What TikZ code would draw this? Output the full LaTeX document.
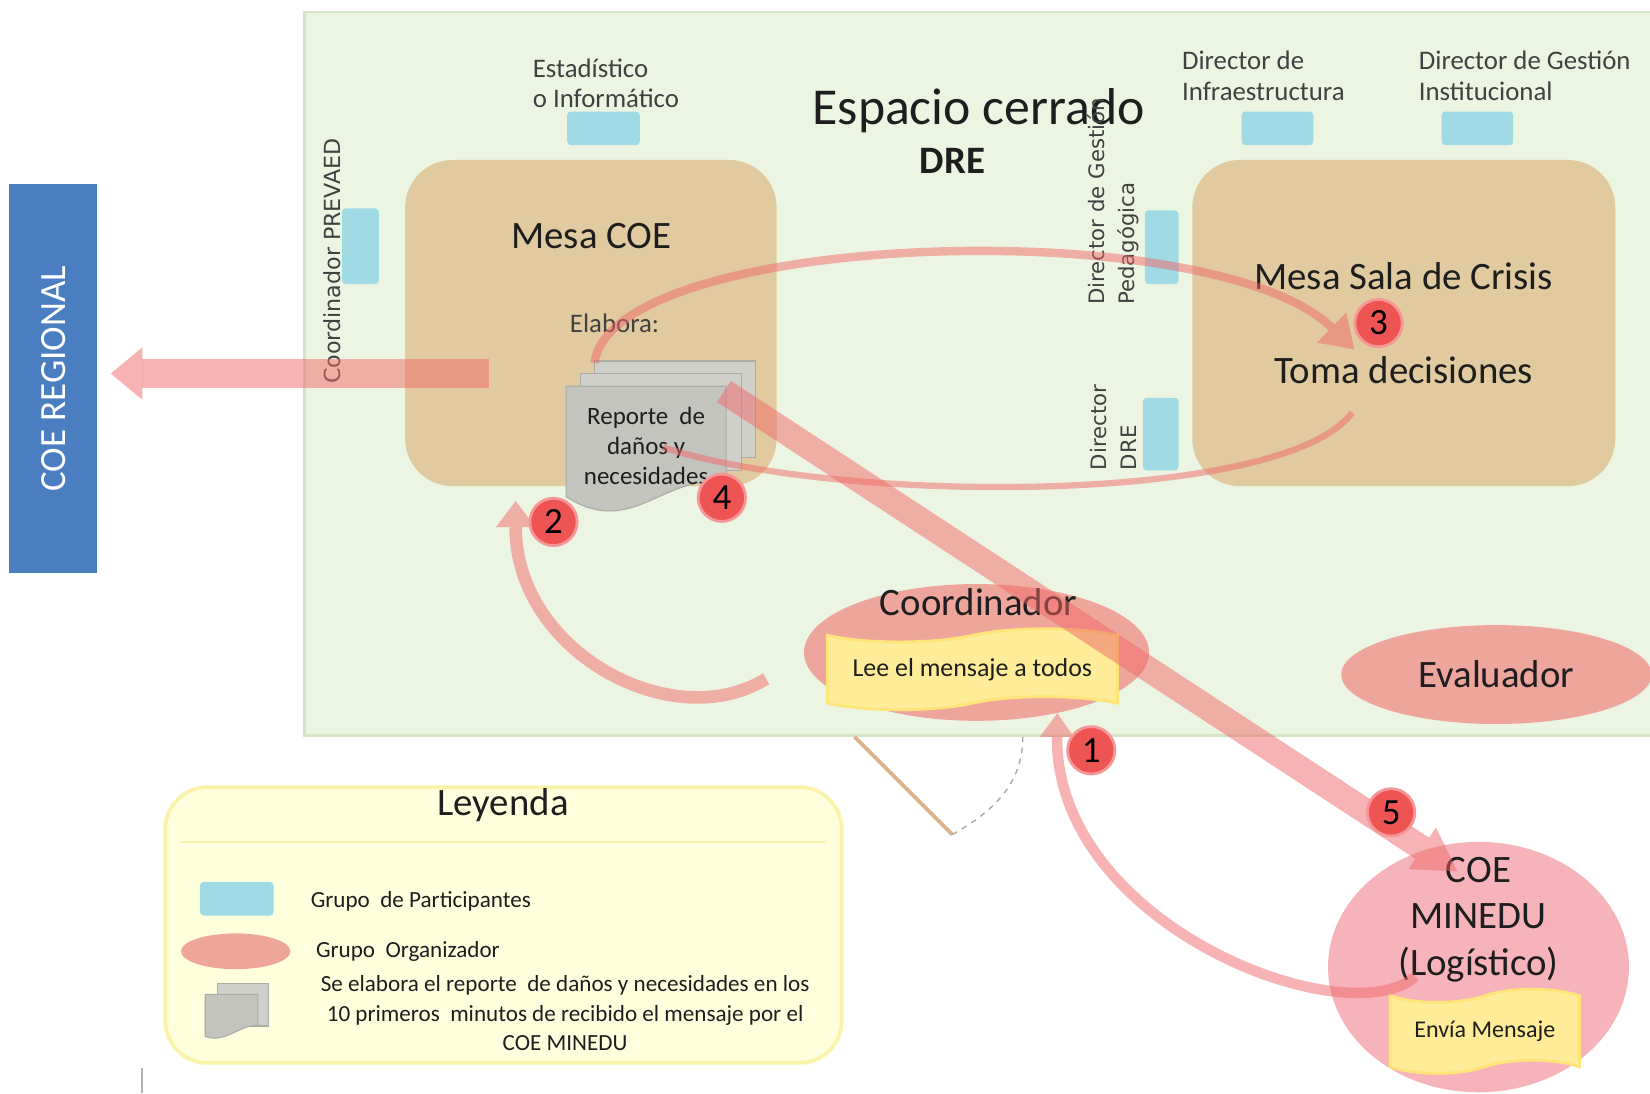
\documentclass[tikz,border=0pt]{standalone}
\usepackage{fontspec}
\setmainfont{Carlito}
\newfontfamily\vlabelfont{DejaVu Sans}
\usetikzlibrary{arrows.meta, positioning, shapes.geometric, shapes.symbols}

\definecolor{roomgreen}{RGB}{236,245,226}
\definecolor{roomline}{RGB}{212,230,196}
\definecolor{mesatan}{RGB}{225,202,160}
\definecolor{seatcyan}{RGB}{160,218,228}
\definecolor{orgsalmon}{RGB}{238,166,156}
\definecolor{minedupink}{RGB}{246,180,186}
\definecolor{msgyellow}{RGB}{254,236,152}
\definecolor{msgline}{RGB}{255,228,120}
\definecolor{numred}{RGB}{238,84,84}
\definecolor{numring}{RGB}{246,150,150}
\definecolor{flowpink}{RGB}{240,104,104}
\definecolor{regblue}{RGB}{74,126,193}
\definecolor{legendfill}{RGB}{255,255,222}
\definecolor{legendline}{RGB}{250,244,168}
\definecolor{docback}{RGB}{208,208,202}
\definecolor{docfront}{RGB}{196,196,190}
\definecolor{docedge}{RGB}{172,172,166}
\definecolor{doorbrown}{RGB}{222,178,138}
\definecolor{txtdark}{RGB}{30,30,30}
\definecolor{txtgray}{RGB}{65,65,65}

\begin{document}
\begin{tikzpicture}[x=0.02cm, y=-0.02cm,
    roombox/.style={draw=roomline, fill=roomgreen, line width=1.5pt, inner sep=0pt},
    mesa/.style={fill=mesatan, rounded corners=0.9cm, inner sep=0pt},
    seat/.style={fill=seatcyan, rounded corners=2pt, inner sep=0pt},
    org/.style={ellipse, fill=orgsalmon, inner sep=0pt},
    msg/.style={tape, draw=msgline, fill=msgyellow, line width=1.5pt, tape bend height=0.25cm, inner sep=0pt, text=txtdark},
    num/.style={circle, fill=numred, draw=numring, line width=1.5pt, minimum size=0.9cm, inner sep=0pt, font=\fontsize{20}{20}\selectfont},
    flow/.style={draw=flowpink, opacity=0.5, line width=#1},
    sheet/.style={fill=#1, draw=docedge, line width=0.6pt},
    bigtxt/.style={font=\fontsize{21}{25}\selectfont, text=txtdark},
    seattxt/.style={font=\fontsize{14.5}{16.5}\selectfont, text=txtgray, align=left, inner sep=0pt},
    vtxt/.style={font=\vlabelfont\fontsize{11.5}{16.5}\selectfont, text=txtgray, rotate=90, align=left, inner sep=0pt},
    legtxt/.style={font=\fontsize{12.5}{16}\selectfont, text=txtdark, inner sep=0pt}
]
\useasboundingbox (0,0) rectangle (1568,1039);
\fill[white] (0,0) rectangle (1568,1039);

% Espacio cerrado
\node[roombox, minimum width=25.8cm, minimum height=13.76cm, anchor=north west] (room) at (288,10) {};
\node[font=\fontsize{28}{30}\selectfont, text=txtdark] (room title) at (930,105) {Espacio cerrado};
\node[font=\bfseries\fontsize{21}{25}\selectfont, text=txtdark] (dre) at (905,153) {DRE};

% COE REGIONAL
\node[fill=regblue, rotate=90, minimum width=7.4cm, minimum height=1.66cm, text=white, font=\fontsize{20}{24}\selectfont] (regional) at (50.5,360) {COE REGIONAL};

% Mesas
\node[mesa, minimum width=7.06cm, minimum height=6.2cm] (mesacoe) at (561.5,307) {};
\node[mesa, minimum width=8.04cm, minimum height=6.2cm] (mesasala) at (1334,307) {};
\node[bigtxt] (coe title) at (562,224) {Mesa COE};
\node[font=\fontsize{14.5}{17}\selectfont, text=txtgray] (elabora) at (584,307) {Elabora:};
\node[bigtxt] (sala title) at (1334,262) {Mesa Sala de Crisis};
\node[bigtxt] (decide) at (1334,352) {Toma decisiones};

% Participantes
\node[seat, minimum width=1.38cm, minimum height=0.64cm] (seat stat) at (573.5,122) {};
\node[seat, minimum width=0.7cm, minimum height=1.44cm] (seat prev) at (342.5,234) {};
\node[seat, minimum width=0.64cm, minimum height=1.4cm] (seat ped) at (1104,235) {};
\node[seat, minimum width=0.68cm, minimum height=1.38cm] (seat dir) at (1103,412.5) {};
\node[seat, minimum width=1.36cm, minimum height=0.64cm] (seat infra) at (1214,122) {};
\node[seat, minimum width=1.36cm, minimum height=0.64cm] (seat inst) at (1404,122) {};

\node[seattxt, anchor=west] (lbl stat) at (506,79) {Estadístico\\o Informático};
\node[seattxt, anchor=west] (lbl infra) at (1123,72) {Director de\\Infraestructura};
\node[seattxt, anchor=west] (lbl inst) at (1348,72) {Director de Gestión\\Institucional};
\node[vtxt, font=\vlabelfont\fontsize{12}{16.5}\selectfont] (lbl prev) at (316,248) {Coordinador PREVAED};
\node[vtxt, anchor=west] (lbl ped) at (1058,290) {Director de Gestión\\Pedagógica};
\node[vtxt, anchor=west] (lbl dir) at (1058,447) {Director\\DRE};

% Reporte
\draw[sheet=docback] (565,343) rectangle (718,435);
\draw[sheet=docback] (552,355) rectangle (705,447);
\draw[sheet=docfront] (538,367) -- (690,367) -- (690,458) .. controls (630,450) and (600,512) .. (538,472) -- cycle;
\node[font=\fontsize{13.5}{16.2}\selectfont, align=center, text=txtdark] (report) at (614,424) {Reporte\hspace{0.45em}de\\daños y\\necesidades};

% Coordinador y Evaluador
\node[org, minimum width=6.56cm, minimum height=2.6cm] (coord) at (928,620) {};
\node[bigtxt] (coord title) at (930,572) {Coordinador};
\node[msg, minimum width=5.52cm, minimum height=1.54cm, font=\fontsize{14}{16}\selectfont] (read) at (924,636) {Lee el mensaje a todos};
\node[org, bigtxt, minimum width=5.9cm, minimum height=1.88cm] (eval) at (1422,641) {Evaluador};

% COE MINEDU
\node[org, fill=minedupink, minimum width=5.72cm, minimum height=4.76cm] (minedu) at (1405,919) {};
\node[bigtxt, align=center, font=\fontsize{21}{25}\selectfont] (minedu txt) at (1405,874) {COE\\MINEDU\\(Logístico)};
\node[msg, minimum width=3.6cm, minimum height=1.6cm, font=\fontsize{13}{15}\selectfont] (send) at (1411,980) {Envía Mensaje};

% Puerta
\draw[doorbrown, line width=2pt] (812,700) -- (905,793);
\draw[gray!70, dashed, line width=0.7pt] (905,793) .. controls (950,768) and (972,740) .. (972,700);
\draw[gray!60, line width=0.8pt] (135,1015) -- (135,1039);

% Leyenda
\node[fill=legendfill, draw=legendline, line width=2pt, rounded corners=0.8cm, minimum width=12.86cm, minimum height=5.24cm] (legend) at (478.5,879) {};
\draw[legendline, line width=1pt] (172,800) -- (785,800);
\node[bigtxt] (legend title) at (478,765) {Leyenda};
\node[seat, minimum width=1.4cm, minimum height=0.64cm] (key seat) at (225,854) {};
\node[legtxt, anchor=west] (key seat txt) at (295,857) {Grupo\ \ de Participantes};
\node[org, minimum width=2.08cm, minimum height=0.68cm] (key org) at (224,904) {};
\node[legtxt, anchor=west] (key org txt) at (300,904) {Grupo\ \ Organizador};
\draw[sheet=docback] (207,935) rectangle (255,975);
\draw[sheet=docfront] (195,945) -- (245,945) -- (245,975) .. controls (230,972) and (215,992) .. (195,985) -- cycle;
\node[legtxt, align=center] (key doc txt) at (537,963) {Se elabora el reporte\ \ de daños y necesidades en los\\10 primeros\ \ minutos de recibido el mensaje por el\\COE MINEDU};

% Flujos
\coordinate (coe out) at (465,355);
\coordinate (report out) at (688,372);
\coordinate (minedu in) at (1385,828);
\coordinate (send out) at (1345,928);
\coordinate (coord out) at (728,645);
\coordinate (coe in) at (490,476);
\coordinate (report top) at (565,345);
\coordinate (sala in) at (1287,332);
\coordinate (sala out) at (1285,392);
\coordinate (report in) at (630,425);

\draw[flow=0.56cm, -{Triangle[length=0.6cm, width=1cm, line width=0pt]}, shorten >=0.26cm] (coe out) -- (regional.south |- coe out);
\draw[flow=0.48cm, -{Triangle[length=0.8cm, width=0.95cm, line width=0pt]}] (report out) -- (minedu in);
\draw[flow=0.2cm, -{Triangle[length=0.45cm, width=0.65cm, line width=0pt]}] (send out) .. controls (1280,985) and (1003,880) .. (coord.-37);
\draw[flow=0.24cm, -{Triangle[length=0.5cm, width=0.75cm, line width=0pt]}] (coord out) .. controls (640,700) and (490,620) .. (coe in);
\draw[flow=0.16cm, -{Triangle[length=0.6cm, width=0.8cm, line width=0pt]}] (report top) .. controls (580,220) and (1150,200) .. (sala in);
\draw[flow=0.12cm] (sala out) .. controls (1220,480) and (800,480) .. (report in);

% Pasos
\node[num] (n1) at (1037,713) {1};
\node[num] (n2) at (526,496) {2};
\node[num] (n3) at (1310,307) {3};
\node[num] (n4) at (686,473) {4};
\node[num] (n5) at (1322,772) {5};

\end{tikzpicture}
\end{document}
